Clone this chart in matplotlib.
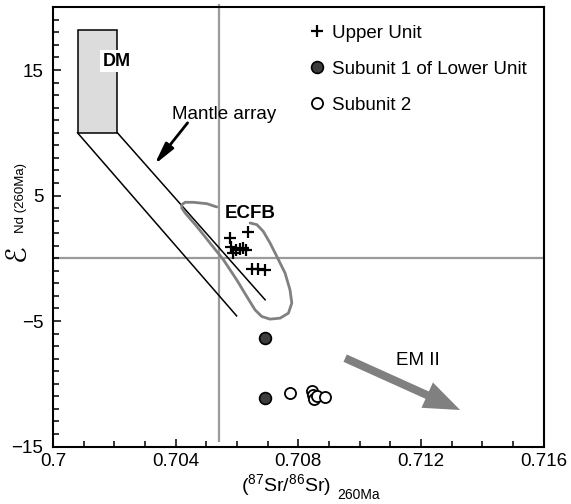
import matplotlib
matplotlib.use("Agg")
import matplotlib.pyplot as plt
from matplotlib.patches import Rectangle, FancyArrowPatch, ArrowStyle
from matplotlib.ticker import MultipleLocator, FixedLocator

plt.rcParams['font.family'] = ['Liberation Sans', 'DejaVu Sans']
plt.rcParams['mathtext.fontset'] = 'custom'
plt.rcParams['mathtext.rm'] = 'Liberation Sans'
plt.rcParams['mathtext.it'] = 'Liberation Sans'

# ---- data -------------------------------------------------------------
sr_upper = [0.70637, 0.70578, 0.70582, 0.70597, 0.70610, 0.70620, 0.70630,
            0.70587, 0.70649, 0.70669, 0.70692]
nd_upper = [2.08, 1.60, 0.92, 0.68, 0.76, 0.80, 0.68, 0.44, -0.83, -0.83, -0.91]

sr_sub1 = [0.70692, 0.70692]
nd_sub1 = [-6.36, -11.15]

sr_sub2 = [0.70773, 0.70844, 0.70848, 0.70850, 0.70861, 0.70887]
nd_sub2 = [-10.75, -10.55, -10.89, -11.21, -10.97, -11.05]

# ECFB field outline
ecfb_sr = [0.70534, 0.70502, 0.70458, 0.70431, 0.70420, 0.70420, 0.70431,
           0.70469, 0.70512, 0.70556, 0.70599, 0.70632, 0.70659, 0.70681,
           0.70708, 0.70741, 0.70768, 0.70779, 0.70773, 0.70757, 0.70730,
           0.70708, 0.70686, 0.70665, 0.70643]
ecfb_nd = [4.09, 4.35, 4.46, 4.46, 4.27, 4.01, 3.61, 2.54, 1.22, -0.12, -1.71,
           -3.04, -4.11, -4.64, -4.85, -4.77, -4.37, -3.57, -2.51, -1.18, 0.15,
           1.22, 2.14, 2.68, 2.81]

# depleted mantle box and mantle-array band
dm_sr = [0.7008, 0.7021]
dm_nd = [10.0, 18.2]
mantle_lower_sr = [0.7008, 0.70599]
mantle_lower_nd = [10.0, -4.59]
mantle_upper_sr = [0.7021, 0.70692]
mantle_upper_nd = [10.0, -3.31]

# bulk-earth reference lines
bse_sr = 0.7054
bse_nd = 0.0

# EM II trend arrow and mantle-array pointer
em2_tail = (0.70953, -7.96)
em2_head = (0.71328, -12.09)
ma_tail = (0.70439, 10.79)
ma_head = (0.70331, 7.47)

x_ticks = [0.7, 0.704, 0.708, 0.712, 0.716]
x_ticklabels = ['0.7', '0.704', '0.708', '0.712', '0.716']
y_ticks = [-15, -5, 5, 15]

# ---- figure -----------------------------------------------------------
W, H = 571, 504
fig = plt.figure(figsize=(W / 100, H / 100), dpi=100)
ax = fig.add_axes([53 / W, (H - 446.5) / H, (543.5 - 53) / W, (446.5 - 7.3) / H])
ax.set_xlim(0.7, 0.716)
ax.set_ylim(-15, 20)

gray_line = '#9a9a9a'
ax.axhline(bse_nd, color=gray_line, lw=1.6, zorder=1)
ax.plot([bse_sr, bse_sr], [-14.65, 20.3], color=gray_line, lw=1.6, zorder=1,
        clip_on=False, solid_capstyle='butt')

# DM field
ax.add_patch(Rectangle((dm_sr[0], dm_nd[0]), dm_sr[1] - dm_sr[0], dm_nd[1] - dm_nd[0],
                       facecolor='#dcdcdc', edgecolor='black', lw=1.1, zorder=2))
ax.plot(mantle_lower_sr, mantle_lower_nd, color='black', lw=1.1, zorder=2)
ax.plot(mantle_upper_sr, mantle_upper_nd, color='black', lw=1.1, zorder=2)

# ECFB field
ax.plot(ecfb_sr, ecfb_nd, color='#808080', lw=2.0, zorder=3,
        solid_joinstyle='round', solid_capstyle='round')

# samples
h_up, = ax.plot(sr_upper, nd_upper, linestyle='none', marker='+', ms=9,
                mew=1.6, color='black', zorder=4)
h_s1, = ax.plot(sr_sub1, nd_sub1, linestyle='none', marker='o', ms=8.5,
                mfc='#3c3c3c', mec='black', mew=1.2, zorder=4)
h_s2, = ax.plot(sr_sub2, nd_sub2, linestyle='none', marker='o', ms=8,
                mfc='white', mec='black', mew=1.3, zorder=4)

# annotations
ax.text(0.70208, 15.7, 'DM', fontsize=13, fontweight='bold', ha='center',
        va='center', zorder=5,
        bbox=dict(boxstyle='square,pad=0.15', fc='white', ec='none'))
ax.text(0.70387, 11.1, 'Mantle array', fontsize=13.5, ha='left',
        va='baseline', zorder=5)
ax.annotate('', xy=ma_head, xytext=ma_tail,
            arrowprops=dict(arrowstyle='-|>,head_length=1.3,head_width=0.3',
                            lw=2.0, color='black', shrinkA=0, shrinkB=0,
                            mutation_scale=10), zorder=5)
ax.text(0.70642, 3.6, 'ECFB', fontsize=13.5, fontweight='bold', ha='center',
        va='center', zorder=5)
ax.add_patch(FancyArrowPatch(em2_tail, em2_head,
                             arrowstyle=ArrowStyle.Simple(head_length=2.6,
                                                          head_width=2.0,
                                                          tail_width=0.58),
                             mutation_scale=10, color='#808080', lw=0,
                             shrinkA=0, shrinkB=0, zorder=5))
ax.text(0.71191, -8.14, 'EM II', fontsize=13.5, ha='center', va='center', zorder=5)

# legend
ax.legend([h_up, h_s1, h_s2], ['Upper Unit', 'Subunit 1 of Lower Unit', 'Subunit 2'],
          loc='upper left', bbox_to_anchor=(0.5236, 0.96), frameon=False,
          fontsize=13.5, handlelength=0.8, handletextpad=0.4, labelspacing=1.0,
          borderpad=0, borderaxespad=0, numpoints=1)

# axes styling
for s in ax.spines.values():
    s.set_linewidth(1.5)
ax.xaxis.set_major_locator(FixedLocator(x_ticks))
ax.set_xticklabels(x_ticklabels)
ax.xaxis.set_minor_locator(MultipleLocator(0.001))
ax.yaxis.set_major_locator(FixedLocator(y_ticks))
ax.yaxis.set_minor_locator(MultipleLocator(1))
ax.tick_params(which='both', direction='in', top=False, right=False,
               width=1.1, labelsize=13.5)
ax.tick_params(which='major', length=5.5)
ax.tick_params(which='minor', length=4)
ax.tick_params(axis='x', pad=5)
ax.tick_params(axis='y', pad=7)

# axis titles
fig.text(331 / W, (H - 491) / H, r'($^{87}$Sr/$^{86}$Sr)', fontsize=14,
         ha='right', va='baseline')
fig.text(337 / W, (H - 499) / H, '260Ma', fontsize=10, ha='left', va='baseline')
fig.text(25 / W, (H - 261) / H, '\u2130', fontsize=20, rotation=90,
         rotation_mode='anchor', ha='left', va='baseline',
         family=['DejaVu Sans'])
fig.text(24 / W, (H - 233) / H, 'Nd (260Ma)', fontsize=9.5, rotation=90,
         rotation_mode='anchor', ha='left', va='baseline')

fig.savefig('out.png', dpi=100)
